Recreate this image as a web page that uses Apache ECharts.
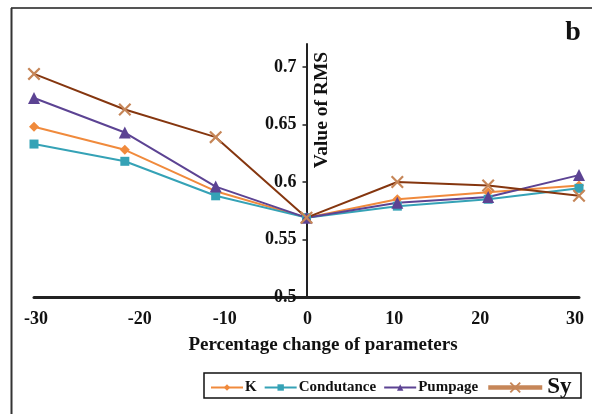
<!DOCTYPE html>
<html>
<head>
<meta charset="utf-8">
<script src="https://cdn.jsdelivr.net/npm/echarts@6/dist/echarts.min.js"></script>
<style>html,body{margin:0;padding:0;background:#fff;}#c{width:592px;height:414px;}</style>
</head>
<body>
<div id="c"></div>
<script>
var xValues = [-30, -20, -10, 0, 10, 20, 30];
var kValues = [0.648, 0.628, 0.592, 0.569, 0.585, 0.591, 0.597];
var condValues = [0.633, 0.618, 0.588, 0.569, 0.579, 0.585, 0.5945];
var pumpValues = [0.673, 0.643, 0.596, 0.569, 0.582, 0.587, 0.606];
var syValues = [0.694, 0.663, 0.639, 0.569, 0.600, 0.597, 0.588];
var yTicks = [0.5, 0.55, 0.6, 0.65, 0.7];

var serif = '"Liberation Serif", "Times New Roman", serif';
function pairs(vals) { return xValues.map(function (x, i) { return [x, vals[i]]; }); }
// horizontal nudges of the x tick labels (as in the reference image)
var labelShift = [4, 30, 18, 2, -6, -16, -8];
var rich = {};
labelShift.forEach(function (s, i) {
  rich['l' + i] = {padding: s >= 0 ? [0, 0, 0, s] : [0, -s, 0, 0], fontFamily: serif, fontWeight: 'bold', fontSize: 18, color: '#111'};
});
var xShape = 'path://M0,1.2 L1.2,0 L5,3.8 L8.8,0 L10,1.2 L6.2,5 L10,8.8 L8.8,10 L5,6.2 L1.2,10 L0,8.8 L3.8,5 Z';

var colors = {k: '#F08A3C', cond: '#35A2B6', pump: '#5C4393', syLine: '#85360F', syMark: '#C68658'};

var gridLeft = 34, gridRight = 13;
var plotW = 592 - gridLeft - gridRight;
var zeroOffset = -plotW * (0 - xValues[0]) / (xValues[xValues.length - 1] - xValues[0]);

var chart = echarts.init(document.getElementById('c'));
chart.setOption({
  animation: false,
  backgroundColor: '#fff',
  grid: {left: gridLeft, right: gridRight, top: 44, bottom: 117, containLabel: false, outerBoundsMode: 'none'},
  xAxis: {
    type: 'value', min: -30, max: 30, interval: 10,
    axisLine: {show: true, onZero: false, lineStyle: {color: '#222', width: 3}},
    axisTick: {show: false},
    splitLine: {show: false},
    axisLabel: {
      margin: 13,
      formatter: function (v) {
        var idx = xValues.indexOf(v);
        return '{l' + idx + '|' + v + '}';
      },
      rich: rich
    },
    name: 'Percentage change of parameters',
    nameLocation: 'middle', nameGap: 39,
    nameTextStyle: {fontFamily: serif, fontWeight: 'bold', fontSize: 19, color: '#111', padding: [0, 0, 0, 33]}
  },
  yAxis: {
    type: 'value', min: 0.5, max: 0.72, interval: 0.05,
    offset: zeroOffset,
    axisLine: {show: true, onZero: false, lineStyle: {color: '#222', width: 2}},
    axisTick: {show: true, length: 4, lineStyle: {color: '#222', width: 1.5},
      customValues: yTicks},
    splitLine: {show: false},
    axisLabel: {
      margin: 10,
      fontFamily: serif, fontWeight: 'bold', fontSize: 18, color: '#111',
      customValues: yTicks,
      formatter: function (v) { return String(Math.round(v * 100) / 100); }
    }
  },
  legend: [
    {
      left: 210, top: 380, padding: 0, orient: 'horizontal', itemWidth: 32, itemHeight: 8, itemGap: 7,
      textStyle: {fontFamily: serif, fontWeight: 'bold', fontSize: 15, color: '#111', padding: [0, 0, 0, -3]},
      data: ['K', 'Condutance', 'Pumpage']
    },
    {
      left: 486, top: 376, padding: 0, itemWidth: 54, itemHeight: 14,
      textStyle: {fontFamily: serif, fontWeight: 'bold', fontSize: 23, color: '#111'},
      data: [{name: 'Sy', itemStyle: {color: colors.syMark}, lineStyle: {color: colors.syMark, width: 4.5}}]
    }
  ],
  graphic: [
    {type: 'line', shape: {x1: 11, y1: 8, x2: 592, y2: 8}, style: {stroke: '#555', lineWidth: 2}},
    {type: 'line', shape: {x1: 11.5, y1: 8, x2: 11.5, y2: 414}, style: {stroke: '#333', lineWidth: 2}},
    {type: 'rect', shape: {x: 204, y: 373, width: 377, height: 25}, style: {fill: 'none', stroke: '#111', lineWidth: 1.5}, z: 0},
    {type: 'text', x: 573, y: 33, style: {text: 'b', fontFamily: serif, fontWeight: 'bold', fontSize: 28, fill: '#111', textAlign: 'center', textVerticalAlign: 'middle'}},
    {type: 'text', x: 322, y: 110, rotation: Math.PI / 2, style: {text: 'Value of RMS', fontFamily: serif, fontWeight: 'bold', fontSize: 19.5, fill: '#111', textAlign: 'center', textVerticalAlign: 'middle'}}
  ],
  series: [
    {name: 'K', type: 'line', data: pairs(kValues), symbol: 'diamond', symbolSize: 10,
      lineStyle: {color: colors.k, width: 2}, itemStyle: {color: colors.k}},
    {name: 'Condutance', type: 'line', data: pairs(condValues), symbol: 'rect', symbolSize: 9,
      lineStyle: {color: colors.cond, width: 2}, itemStyle: {color: colors.cond}},
    {name: 'Pumpage', type: 'line', data: pairs(pumpValues), symbol: 'triangle', symbolSize: 12,
      lineStyle: {color: colors.pump, width: 2}, itemStyle: {color: colors.pump}},
    {name: 'Sy', type: 'line', data: pairs(syValues), symbol: xShape, symbolSize: 13,
      lineStyle: {color: colors.syLine, width: 2}, itemStyle: {color: colors.syMark}}
  ]
});
</script>
</body>
</html>
